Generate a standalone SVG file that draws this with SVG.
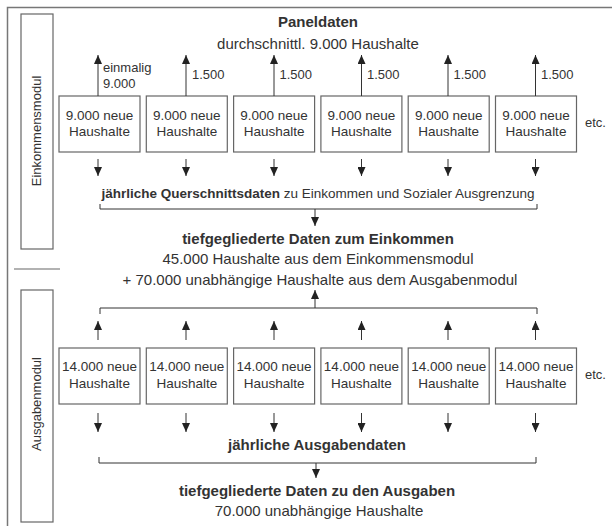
<svg xmlns="http://www.w3.org/2000/svg" width="612" height="526" viewBox="0 0 612 526">
<defs>
<marker id="ah" markerUnits="userSpaceOnUse" markerWidth="9" markerHeight="8" refX="9" refY="4" orient="auto" viewBox="0 0 9 8">
<path d="M0,0 L9,4 L0,8 Z" fill="#222"/>
</marker>
<style>
text{font-family:"Liberation Sans",Arial,sans-serif;fill:#333}
.bx{font-size:13.5px;text-anchor:middle}
.lb{font-size:13px}
.t{font-size:15px;text-anchor:middle}
.b{font-weight:bold}
.box{fill:none;stroke:#666;stroke-width:1.2}
.ln{fill:none;stroke:#333;stroke-width:1}
.ar{fill:none;stroke:#333;stroke-width:1;marker-end:url(#ah)}
.fr{fill:none;stroke:#777;stroke-width:1.5}
</style>
</defs>
<rect width="612" height="526" fill="#fff"/>
<g id="frame">
<rect class="fr" x="7.5" y="7.5" width="620" height="530"/>
<line x1="14" y1="269" x2="60" y2="269" stroke="#666" stroke-width="1.2"/>
</g>
<g id="einkommensmodul">
<rect class="box" x="21" y="14" width="32" height="235"/>
<text class="lb" transform="translate(41,131) rotate(-90)" text-anchor="middle">Einkommensmodul</text>
</g>
<g id="ausgabenmodul">
<rect class="box" x="21" y="290" width="32" height="232"/>
<text class="lb" transform="translate(41,404) rotate(-90)" text-anchor="middle">Ausgabenmodul</text>
</g>
<g id="paneldaten">
<text class="t b" x="318" y="27">Paneldaten</text>
<text class="t" x="318" y="49">durchschnittl. 9.000 Haushalte</text>
</g>
<g id="e1"><rect class="box" x="59" y="96" width="81" height="56"/><text class="bx" x="99.5" y="120">9.000 neue</text><text class="bx" x="99.5" y="136">Haushalte</text></g>
<g id="e2"><rect class="box" x="146.3" y="96" width="81" height="56"/><text class="bx" x="186.8" y="120">9.000 neue</text><text class="bx" x="186.8" y="136">Haushalte</text></g>
<g id="e3"><rect class="box" x="233.6" y="96" width="81" height="56"/><text class="bx" x="274.1" y="120">9.000 neue</text><text class="bx" x="274.1" y="136">Haushalte</text></g>
<g id="e4"><rect class="box" x="320.9" y="96" width="81" height="56"/><text class="bx" x="361.4" y="120">9.000 neue</text><text class="bx" x="361.4" y="136">Haushalte</text></g>
<g id="e5"><rect class="box" x="408.2" y="96" width="81" height="56"/><text class="bx" x="448.7" y="120">9.000 neue</text><text class="bx" x="448.7" y="136">Haushalte</text></g>
<g id="e6"><rect class="box" x="495.5" y="96" width="81" height="56"/><text class="bx" x="536" y="120">9.000 neue</text><text class="bx" x="536" y="136">Haushalte</text></g>
<g id="etc1"><text class="lb" x="585" y="127">etc.</text></g>
<g id="querschnitt">
<text x="318" y="198" style="font-size:13.5px;text-anchor:middle"><tspan class="b">jährliche Querschnittsdaten</tspan> zu Einkommen und Sozialer Ausgrenzung</text>
</g>
<g id="einkommen">
<text class="t b" x="318" y="244">tiefgegliederte Daten zum Einkommen</text>
<text class="t" x="318" y="264">45.000 Haushalte aus dem Einkommensmodul</text>
<text class="t" x="320" y="285">+ 70.000 unabhängige Haushalte aus dem Ausgabenmodul</text>
</g>
<g id="a1"><rect class="box" x="59" y="348" width="81" height="56"/><text class="bx" x="99.5" y="371">14.000 neue</text><text class="bx" x="99.5" y="388">Haushalte</text></g>
<g id="a2"><rect class="box" x="146.3" y="348" width="81" height="56"/><text class="bx" x="186.8" y="371">14.000 neue</text><text class="bx" x="186.8" y="388">Haushalte</text></g>
<g id="a3"><rect class="box" x="233.6" y="348" width="81" height="56"/><text class="bx" x="274.1" y="371">14.000 neue</text><text class="bx" x="274.1" y="388">Haushalte</text></g>
<g id="a4"><rect class="box" x="320.9" y="348" width="81" height="56"/><text class="bx" x="361.4" y="371">14.000 neue</text><text class="bx" x="361.4" y="388">Haushalte</text></g>
<g id="a5"><rect class="box" x="408.2" y="348" width="81" height="56"/><text class="bx" x="448.7" y="371">14.000 neue</text><text class="bx" x="448.7" y="388">Haushalte</text></g>
<g id="a6"><rect class="box" x="495.5" y="348" width="81" height="56"/><text class="bx" x="536" y="371">14.000 neue</text><text class="bx" x="536" y="388">Haushalte</text></g>
<g id="etc2"><text class="lb" x="585" y="379">etc.</text></g>
<g id="ausgabendaten"><text class="t b" x="317" y="450">jährliche Ausgabendaten</text></g>
<g id="ausgaben">
<text class="t b" x="317" y="496">tiefgegliederte Daten zu den Ausgaben</text>
<text class="t" x="319" y="516">70.000 unabhängige Haushalte</text>
</g>
<g id="connectors">
<line class="ar" x1="98" y1="96" x2="98" y2="55"/>
<line class="ar" x1="186" y1="96" x2="186" y2="55"/>
<line class="ar" x1="274" y1="96" x2="274" y2="55"/>
<line class="ar" x1="361.5" y1="96" x2="361.5" y2="55"/>
<line class="ar" x1="448" y1="96" x2="448" y2="55"/>
<line class="ar" x1="535.5" y1="96" x2="535.5" y2="55"/>
<text class="lb" x="103" y="72">einmalig</text>
<text class="lb" x="103" y="88">9.000</text>
<text class="lb" x="192" y="79">1.500</text>
<text class="lb" x="279.5" y="79">1.500</text>
<text class="lb" x="367" y="79">1.500</text>
<text class="lb" x="453.5" y="79">1.500</text>
<text class="lb" x="541" y="79">1.500</text>
<line class="ar" x1="98" y1="159" x2="98" y2="176"/>
<line class="ar" x1="186" y1="159" x2="186" y2="176"/>
<line class="ar" x1="274" y1="159" x2="274" y2="176"/>
<line class="ar" x1="361.5" y1="159" x2="361.5" y2="176"/>
<line class="ar" x1="448" y1="159" x2="448" y2="176"/>
<line class="ar" x1="535.5" y1="159" x2="535.5" y2="176"/>
<path class="ln" d="M100,204 V209 H537 V204"/>
<line class="ar" x1="315" y1="209" x2="315" y2="226"/>
<line class="ar" x1="315" y1="308" x2="315" y2="290"/>
<path class="ln" d="M100,314 V308 H537 V314"/>
<line class="ar" x1="98" y1="340" x2="98" y2="321"/>
<line class="ar" x1="186" y1="340" x2="186" y2="321"/>
<line class="ar" x1="274" y1="340" x2="274" y2="321"/>
<line class="ar" x1="361.5" y1="340" x2="361.5" y2="321"/>
<line class="ar" x1="448" y1="340" x2="448" y2="321"/>
<line class="ar" x1="535.5" y1="340" x2="535.5" y2="321"/>
<line class="ar" x1="98" y1="413" x2="98" y2="432"/>
<line class="ar" x1="186" y1="413" x2="186" y2="432"/>
<line class="ar" x1="274" y1="413" x2="274" y2="432"/>
<line class="ar" x1="361.5" y1="413" x2="361.5" y2="432"/>
<line class="ar" x1="448" y1="413" x2="448" y2="432"/>
<line class="ar" x1="535.5" y1="413" x2="535.5" y2="432"/>
<path class="ln" d="M99,457 V463 H536 V457"/>
<line class="ar" x1="316" y1="463" x2="316" y2="478"/>
</g>
</svg>
